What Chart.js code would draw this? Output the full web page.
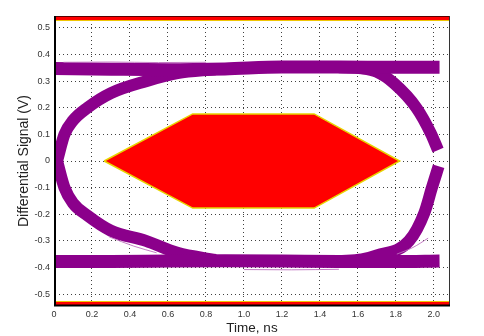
<!DOCTYPE html>
<html>
<head>
<meta charset="utf-8">
<script src="https://cdn.jsdelivr.net/npm/chart.js@4.4.1/dist/chart.umd.min.js"></script>
<style>
  html, body { margin: 0; padding: 0; background: #fff; }
</style>
</head>
<body>
<canvas id="eye" width="484" height="336"></canvas>
<script>
// axis ranges
var xMin = 0, xMax = 2.085;
var yMin = -0.545, yMax = 0.545;

// upper and lower levels of the eye
var topT = [0, 0.3, 0.6, 0.9, 1.2, 1.5, 1.8, 2.03];
var topV = [0.348, 0.345, 0.343, 0.346, 0.353, 0.353, 0.352, 0.352];
var botT = [0, 0.3, 0.6, 0.9, 1.2, 1.5, 1.8, 2.03];
var botV = [-0.378, -0.378, -0.376, -0.375, -0.376, -0.378, -0.378, -0.376];

// transitions on the left (from the crossing at t=0)
var riseLT = [0, 0.016, 0.055, 0.1, 0.176, 0.3, 0.485, 0.65, 0.85];
var riseLV = [-0.04, 0, 0.1, 0.152, 0.2, 0.255, 0.3, 0.33, 0.345];
var fallLT = [0, 0.016, 0.055, 0.1, 0.176, 0.3, 0.484, 0.65, 0.85];
var fallLV = [0.04, 0, -0.1, -0.158, -0.205, -0.262, -0.3, -0.345, -0.372];

// transitions on the right
var fallRT = [1.5, 1.62, 1.7, 1.79, 1.91, 1.984, 2.022];
var fallRV = [0.352, 0.348, 0.335, 0.292, 0.198, 0.104, 0.041];
var riseRT = [1.5, 1.62, 1.7, 1.87, 1.95, 1.99, 2.025];
var riseRV = [-0.376, -0.37, -0.355, -0.3, -0.195, -0.1, -0.02];

// a few faint stray traces
var strayAT = [0.05, 0.3, 0.55, 0.8];
var strayAV = [0.371, 0.372, 0.37, 0.371];
var strayBT = [0.29, 0.42, 0.54];
var strayBV = [-0.285, -0.32, -0.345];
var strayCT = [1.805, 1.89, 1.97];
var strayCV = [-0.35, -0.325, -0.29];
var strayDT = [1.0, 1.25, 1.5];
var strayDV = [-0.408, -0.409, -0.407];

// eye mask (hexagon) and limit bands
var maskT = [0.264, 0.73, 1.37, 1.82, 1.37, 0.73, 0.264];
var maskV = [0, 0.177, 0.177, 0, -0.177, -0.177, 0];
var limitT = [0, 2.085];
var limitHi = [0.528, 0.528];
var limitLo = [-0.528, -0.528];

function pts(t, v) {
    return t.map(function (x, i) { return { x: x, y: v[i] }; });
}

var purple = '#8b008b';
var faint = 'rgba(190, 110, 190, 0.9)';

function trace(t, v, w) {
    return {
        data: pts(t, v),
        borderColor: purple,
        borderWidth: w,
        cubicInterpolationMode: 'monotone',
        borderJoinStyle: 'round',
        pointRadius: 0,
        fill: false,
        clip: 0,
        order: 2
    };
}

function thin(t, v) {
    return {
        data: pts(t, v),
        borderColor: faint,
        borderWidth: 1,
        cubicInterpolationMode: 'monotone',
        pointRadius: 0,
        fill: false,
        clip: 0,
        order: 1
    };
}

var datasets = [
    trace(topT, topV, 13),
    trace(botT, botV, 13),
    trace(riseLT, riseLV, 12),
    trace(fallLT, fallLV, 12),
    trace(fallRT, fallRV, 12),
    trace(riseRT, riseRV, 12),
    thin(strayAT, strayAV),
    thin(strayBT, strayBV),
    thin(strayCT, strayCV),
    thin(strayDT, strayDV),
    {
        data: pts(maskT, maskV),
        borderColor: '#e8d400',
        borderWidth: 1.5,
        backgroundColor: '#ff0000',
        fill: 'shape',
        tension: 0,
        pointRadius: 0,
        order: 3
    },
    {
        data: pts(limitT, limitHi),
        borderColor: '#f0c800',
        borderWidth: 1,
        backgroundColor: '#ff0000',
        fill: 'end',
        pointRadius: 0,
        order: 3
    },
    {
        data: pts(limitT, limitLo),
        borderColor: '#f0c800',
        borderWidth: 1,
        backgroundColor: '#ff0000',
        fill: 'start',
        pointRadius: 0,
        order: 3
    }
];

// box around the plot area
var frame = {
    id: 'frame',
    afterDatasetsDraw: function (chart) {
        var a = chart.chartArea, c = chart.ctx;
        c.save();
        c.strokeStyle = '#5a0000';
        c.lineWidth = 1;
        c.beginPath();
        c.moveTo(a.left, a.top + 0.5);
        c.lineTo(a.right, a.top + 0.5);
        c.stroke();
        c.strokeStyle = '#333';
        c.beginPath();
        c.moveTo(a.right - 0.5, a.top);
        c.lineTo(a.right - 0.5, a.bottom);
        c.stroke();
        c.strokeStyle = '#000';
        c.lineWidth = 2;
        c.beginPath();
        c.moveTo(a.left + 1, a.top);
        c.lineTo(a.left + 1, a.bottom);
        c.moveTo(a.left, a.bottom - 0.5);
        c.lineTo(a.right, a.bottom - 0.5);
        c.stroke();
        c.restore();
    }
};

var tickFont = { family: 'Liberation Sans, Arial, sans-serif', size: 9 };
var gridStyle = {
    color: 'rgba(0,0,0,0.75)',
    lineWidth: 1,
    drawTicks: false
};
var gridBorder = { display: true, color: 'rgba(0,0,0,0)', dash: [1, 3] };

new Chart(document.getElementById('eye'), {
    type: 'line',
    data: { datasets: datasets },
    options: {
        responsive: false,
        animation: false,
        devicePixelRatio: 1,
        layout: { padding: { left: 0, right: 34, top: 16, bottom: 0 } },
        plugins: {
            legend: { display: false },
            tooltip: { enabled: false }
        },
        scales: {
            x: {
                type: 'linear',
                min: xMin,
                max: xMax,
                grid: gridStyle,
                border: gridBorder,
                ticks: {
                    stepSize: 0.2,
                    includeBounds: false,
                    padding: 3,
                    color: '#333',
                    font: tickFont,
                    maxRotation: 0
                },
                title: {
                    display: true,
                    text: 'Time, ns',
                    color: '#222',
                    font: { family: 'Liberation Sans, Arial, sans-serif', size: 13.5 },
                    padding: { top: 0, bottom: 0 }
                },
                afterFit: function (s) { s.height = 30; }
            },
            y: {
                type: 'linear',
                min: yMin,
                max: yMax,
                grid: gridStyle,
                border: gridBorder,
                ticks: {
                    stepSize: 0.1,
                    includeBounds: false,
                    padding: 4,
                    color: '#333',
                    font: tickFont
                },
                title: {
                    display: true,
                    text: 'Differential Signal (V)',
                    color: '#222',
                    font: { family: 'Liberation Sans, Arial, sans-serif', size: 14 },
                    padding: { top: 16, bottom: 0 }
                },
                afterFit: function (s) { s.width = 54; }
            }
        }
    },
    plugins: [frame]
});
</script>
</body>
</html>
